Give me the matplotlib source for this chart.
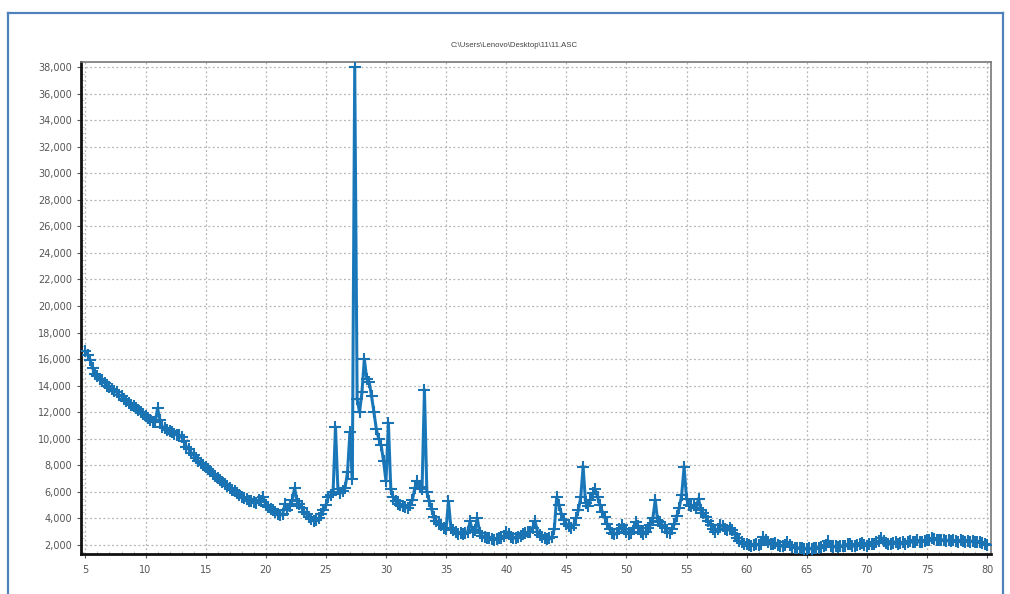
import numpy as np
import matplotlib
matplotlib.use("Agg")
import matplotlib.pyplot as plt
from matplotlib.lines import Line2D
from matplotlib.ticker import FuncFormatter, MultipleLocator


# ============================================================
# 1. ДАННЫЕ (2θ от 5 до 80 с шагом 0.2)
# ============================================================

title_text = r"C:\Users\Lenovo\Desktop\11\11.ASC"

start_angle = 5.0
step_angle = 0.2

intensity = [
    16600, 16300, 15900, 15300, 14900, 14700, 14500, 14400, 14200, 14000,   # 5.0
    13900, 13750, 13600, 13500, 13300, 13200, 13000, 12850, 12700, 12550,   # 7.0
    12450, 12300, 12150, 12000, 11900, 11750, 11550, 11400, 11300, 11250,   # 9.0
    12300, 11400, 10900, 10800, 10650, 10550, 10500, 10350, 10300, 10250,   # 11.0
    10100, 9800, 9400, 9200, 8950, 8750, 8550, 8350, 8200, 8050,            # 13.0
    7900, 7750, 7550, 7350, 7200, 7050, 6900, 6750, 6600, 6450,             # 15.0
    6300, 6150, 6050, 5900, 5800, 5650, 5550, 5450, 5350, 5300,             # 17.0
    5250, 5150, 5400, 5300, 5600, 5000, 4850, 4700, 4600, 4450,             # 19.0
    4350, 4250, 4300, 5100, 4600, 4900, 5400, 6300, 5300, 5100,             # 21.0
    4800, 4500, 4300, 4100, 3950, 3800, 3900, 4000, 4300, 4600,             # 23.0
    5000, 5600, 5800, 6000, 10900, 6200, 5900, 6100, 6300, 7500,            # 25.0
    10500, 7000, 38000, 13000, 12000, 13500, 16000, 14500, 14300, 13200,    # 27.0
    12000, 10700, 10000, 9500, 8300, 6800, 11200, 6200, 5600, 5300,         # 29.0
    5100, 5000, 4900, 4850, 4800, 5000, 5400, 6300, 6800, 6400,             # 31.0
    6200, 13700, 6000, 5300, 4700, 4100, 3800, 3600, 3500, 3300,            # 33.0
    3200, 5300, 3300, 3100, 3000, 2850, 2900, 2800, 2900, 3000,             # 35.0
    3800, 3000, 3100, 4000, 2900, 2700, 2600, 2550, 2500, 2450,             # 37.0
    2400, 2450, 2500, 2550, 2700, 3000, 2800, 2600, 2550, 2500,             # 39.0
    2600, 2700, 2800, 2900, 2950, 3000, 3300, 3800, 3000, 2750,             # 41.0
    2600, 2500, 2450, 2500, 2600, 3200, 5600, 5000, 4300, 3900,             # 43.0
    3600, 3400, 3300, 3500, 4000, 4600, 5600, 7900, 5200, 4900,             # 45.0
    5400, 5900, 6200, 5600, 5000, 4500, 4100, 3600, 3200, 2900,             # 47.0
    2800, 2900, 3200, 3500, 3200, 3000, 2850, 2900, 3300, 3700,             # 49.0
    3400, 3000, 2850, 3000, 3300, 3500, 4000, 5400, 3800, 3700,             # 51.0
    3500, 3300, 3000, 2900, 3200, 3600, 4200, 4800, 5800, 7900,             # 53.0
    5500, 5000, 4900, 5000, 4800, 5500, 4600, 4400, 4100, 3800,             # 55.0
    3500, 3200, 3000, 3200, 3500, 3400, 3200, 3100, 3300, 3100,             # 57.0
    2800, 2500, 2300, 2200, 2100, 2050, 2000, 1950, 2000, 2050,             # 59.0
    2000, 2100, 2600, 2400, 2200, 2100, 2050, 2150, 2000, 1900,             # 61.0
    1950, 2000, 2200, 2000, 1850, 1800, 1750, 1800, 1750, 1700,             # 63.0
    1700, 1750, 1700, 1750, 1800, 1750, 1850, 1900, 2000, 2300,             # 65.0
    1950, 1850, 1900, 1850, 1900, 1950, 1900, 2050, 2100, 1950,             # 67.0
    1900, 2000, 2100, 2150, 2000, 1950, 2050, 2100, 2050, 2200,             # 69.0
    2300, 2550, 2300, 2150, 2100, 2050, 2150, 2250, 2100, 2150,             # 71.0
    2200, 2100, 2250, 2300, 2200, 2250, 2350, 2200, 2250, 2300,             # 73.0
    2350, 2400, 2500, 2450, 2400, 2350, 2400, 2350, 2300, 2350,             # 75.0
    2300, 2350, 2300, 2250, 2350, 2300, 2250, 2300, 2250, 2300,             # 77.0
    2250, 2200, 2250, 2150, 2100, 2000,                                     # 79.0
]

x_ticks = [5, 10, 15, 20, 25, 30, 35, 40, 45, 50, 55, 60, 65, 70, 75, 80]
y_ticks = list(range(2000, 38001, 2000))


# ============================================================
# 2. РИСУНОК
# ============================================================

def plot_pattern():
    two_theta = start_angle + step_angle * np.arange(len(intensity))
    counts = np.array(intensity, dtype=float)

    fig = plt.figure(figsize=(10.10, 5.94), dpi=100)
    ax = fig.add_axes([0.0802, 0.0673, 0.9010, 0.8283])

    # Полоса + маркеры "+", как в исходной программе
    ax.plot(two_theta, counts, color="#1b7cbf", linewidth=2.2,
            solid_joinstyle="round", zorder=3)
    ax.plot(two_theta, counts, color="#1a74b4", linewidth=0.8,
            marker="+", markersize=8.5, markeredgewidth=1.5, zorder=4)

    ax.set_xlim(4.63, 80.33)
    ax.set_ylim(1320, 38380)
    ax.set_xticks(x_ticks)
    ax.set_yticks(y_ticks)
    ax.yaxis.set_major_formatter(FuncFormatter(lambda v, p: f"{int(v):,}"))
    ax.xaxis.set_minor_locator(MultipleLocator(1))
    ax.yaxis.set_minor_locator(MultipleLocator(500))

    ax.grid(True, which="major", color="#b4b4b4", linestyle=(0, (1.5, 2)),
            linewidth=0.9, zorder=0)
    ax.tick_params(axis="both", which="major", labelsize=7,
                   labelcolor="#555555", length=3, color="#555555")
    ax.tick_params(axis="x", which="major", pad=5)
    ax.tick_params(axis="both", which="minor", length=2, color="#bbbbbb",
                   direction="in")

    # Рамка осей
    for side in ("left", "bottom"):
        ax.spines[side].set_linewidth(2.0)
        ax.spines[side].set_color("#111111")
    for side in ("top", "right"):
        ax.spines[side].set_linewidth(1.2)
        ax.spines[side].set_color("#777777")

    fig.text(0.509, 0.9226, title_text, ha="center", va="center",
             fontsize=5.6, color="#444444", family="Liberation Sans")

    # Синяя рамка вокруг картинки
    border = dict(color="#4f81bd", linewidth=1.6, transform=fig.transFigure)
    fig.lines.append(Line2D([0.0079, 0.0079], [0.978, 0.0], **border))
    fig.lines.append(Line2D([0.0079, 0.9931], [0.978, 0.978], **border))
    fig.lines.append(Line2D([0.9931, 0.9931], [0.978, 0.0], **border))

    fig.savefig("out.png", dpi=100)


if __name__ == "__main__":
    plot_pattern()
